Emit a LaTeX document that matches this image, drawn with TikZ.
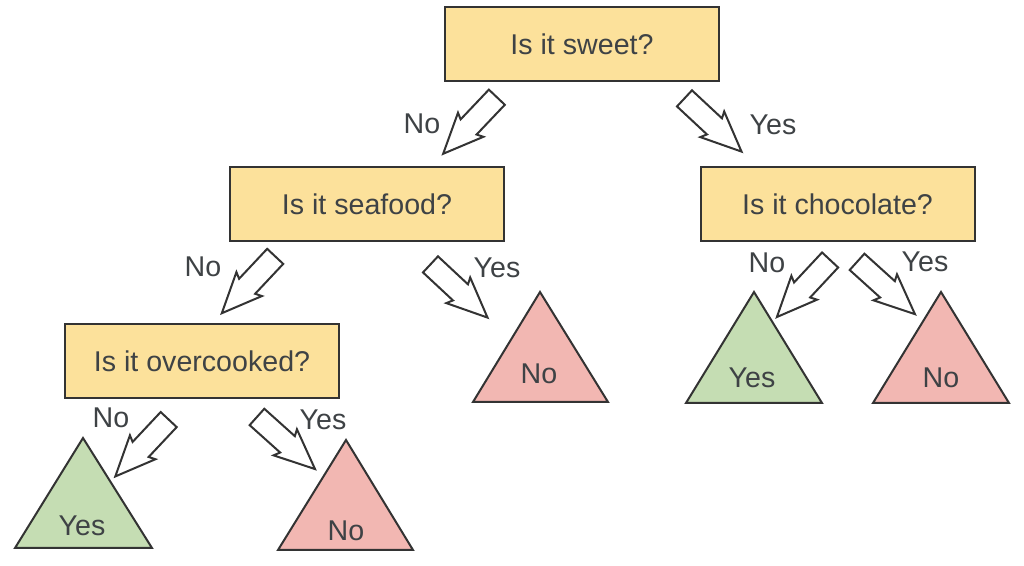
\documentclass[tikz,border=0pt]{standalone}
\usepackage{fontspec}
\setmainfont{Liberation Sans}
\usepackage{xcolor}
\definecolor{ColBox}{RGB}{252,225,155}
\definecolor{ColYes}{RGB}{197,221,179}
\definecolor{ColNo}{RGB}{242,183,178}
\definecolor{ColLine}{RGB}{51,51,51}
\definecolor{ColText}{RGB}{62,66,69}
\tikzstyle{Question}=[rectangle,draw=ColLine,fill=ColBox,line width=1pt,
minimum width=137pt,minimum height=37pt,inner sep=0pt,text=ColText]
\tikzstyle{LeafYes}=[draw=ColLine,fill=ColYes,line width=1pt,line join=miter]
\tikzstyle{LeafNo}=[draw=ColLine,fill=ColNo,line width=1pt,line join=miter]
\tikzstyle{ChoiceLine}=[draw=ColLine,fill=white,line width=1pt,line join=miter]
\tikzstyle{Answer}=[anchor=base,inner sep=0pt,text=ColText]
\tikzset{pics/choice/.style={code={
    \draw[ChoiceLine](-19.5pt,-5.5pt)--(1pt,-5.5pt)--(-0.5pt,-8.75pt)
        --(19.5pt,0pt)--(-0.5pt,8.75pt)--(1pt,5.5pt)--(-19.5pt,5.5pt)--cycle;}}}

\begin{document}
\begin{tikzpicture}[x=0.5pt,y=-0.5pt,font=\fontsize{14.3}{17}\selectfont]
            \useasboundingbox(0,0)rectangle(1024,566);
            % questions
            \node[Question](q1)at(582,44.5){Is it sweet?};
            \node[Question](q2)at(367,204){Is it seafood?};
            \node[Question](q3)at(837.5,204){Is it chocolate?};
            \node[Question](q4)at(202,361){Is it overcooked?};
            % leaves
            \draw[LeafNo](540,292)--(473,402)--(608,402)--cycle;
            \draw[LeafYes](754,292)--(686,403)--(822,403)--cycle;
            \draw[LeafNo](941,292)--(873,403)--(1009,403)--cycle;
            \draw[LeafYes](83,438)--(15,548)--(152,548)--cycle;
            \draw[LeafNo](346,440)--(278,550)--(413,550)--cycle;
            \node[Answer](l1)at(539,384){No};
            \node[Answer](l2)at(752,388){Yes};
            \node[Answer](l3)at(941,388){No};
            \node[Answer](l4)at(82,536){Yes};
            \node[Answer](l5)at(346,541){No};
            % choices
            \pic[rotate=226.5](a1)at(470,125.5){choice};
            \pic[rotate=-43](a2)at(713,125){choice};
            \pic[rotate=226.8](a3)at(248.5,284.8){choice};
            \pic[rotate=-43](a4)at(459,291){choice};
            \pic[rotate=227](a5)at(803.5,288.5){choice};
            \pic[rotate=-42.1](a6)at(886,288){choice};
            \pic[rotate=226.8](a7)at(142,448){choice};
            \pic[rotate=-41.9](a8)at(286,443){choice};
            \node[Answer](n1)at(422,134){No};
            \node[Answer](y1)at(773,135){Yes};
            \node[Answer](n2)at(203,277){No};
            \node[Answer](y2)at(497,278){Yes};
            \node[Answer](n3)at(767,273){No};
            \node[Answer](y3)at(925,272){Yes};
            \node[Answer](n4)at(111,428){No};
            \node[Answer](y4)at(323,430){Yes};
\end{tikzpicture}
\end{document}
